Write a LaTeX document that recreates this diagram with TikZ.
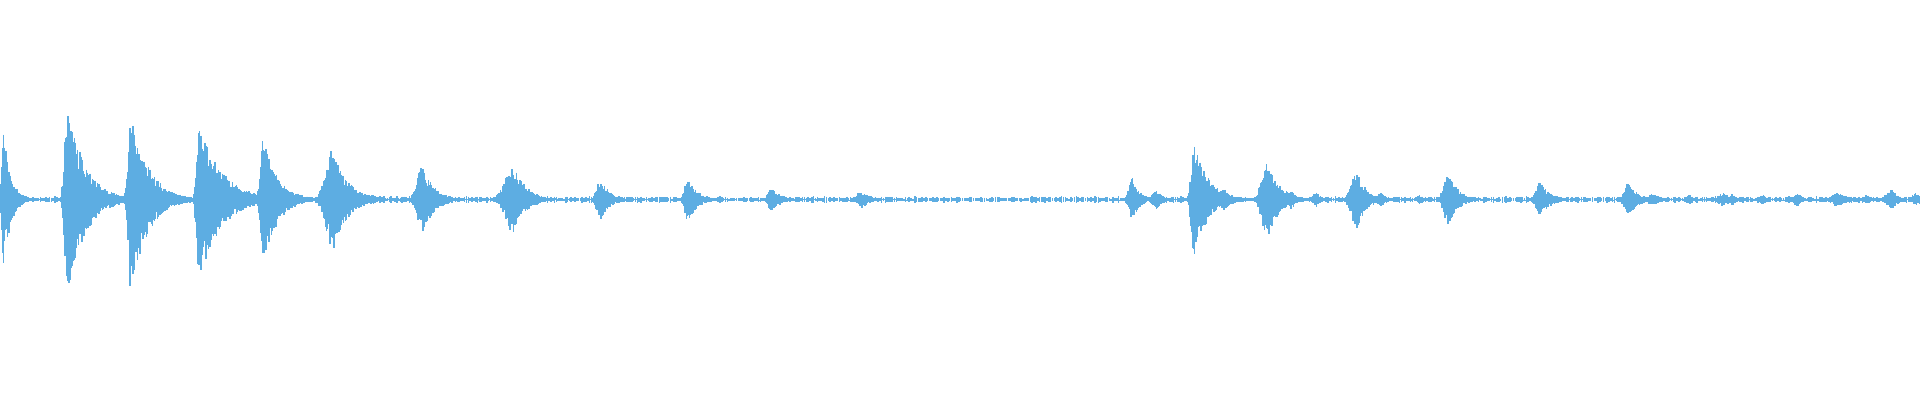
\documentclass[tikz,border=0pt]{standalone}
\definecolor{wave}{RGB}{93,173,226}
\begin{document}
\begin{tikzpicture}[x=0.012245cm,y=-0.01223cm,wl/.style={draw=wave,line width=0.45pt}]
\useasboundingbox (0,0) rectangle (1568,327);
\pgfmathsetseed{7}
\foreach \x in {0,1.5,...,1568}{
  \pgfmathsetmacro\u{0.8+1.8*rnd}
  \draw[wl] (\x,163-\u)--(\x,163+\u);
}
\foreach \c/\a/\r/\d in {3/55/2/6,55/82/3/14,107/75/3/14,163/65/3/18,215/52/3/12,272/42/8/12,345/28/6/10,420/28/10/10,490/18/4/8,562/18/4/8,630/10/4/8,703/8/4/8,925/18/4/6,975/48/3/12,1035/32/6/10,1108/24/6/8,1183/22/5/8,1258/15/5/8,1330/14/5/8,1408/6/6/6,1440/4/4/4,1468/6/4/4,1502/6/8/8,1545/8/6/6,1565/6/4/4,130/10/4/6,185/8/4/6,240/6/4/6,305/4/5/5,945/8/5/5,1000/10/5/5,1055/8/4/4,1075/6/4/4,1128/6/5/5,1160/4/4/4,1350/5/6/8,1380/4/4/4,1415/5/4/4,1525/4/4/4}{
  \pgfmathsetmacro\ts{-3*\r}
  \pgfmathsetmacro\tn{-3*\r+0.6}
  \pgfmathsetmacro\te{5*\d}
  \foreach \t in {\ts,\tn,...,\te}{
    \pgfmathsetmacro\e{\t<0 ? \a*exp(-(\t/\r)^2) : \a*exp(-\t/\d)}
    \pgfmathsetmacro\u{\e*(0.55+0.45*rnd)}
    \pgfmathsetmacro\l{\e*(0.55+0.45*rnd)}
    \draw[wl] (\c+\t,163-\u)--(\c+\t,163+\l);
  }
}
\end{tikzpicture}
\end{document}
